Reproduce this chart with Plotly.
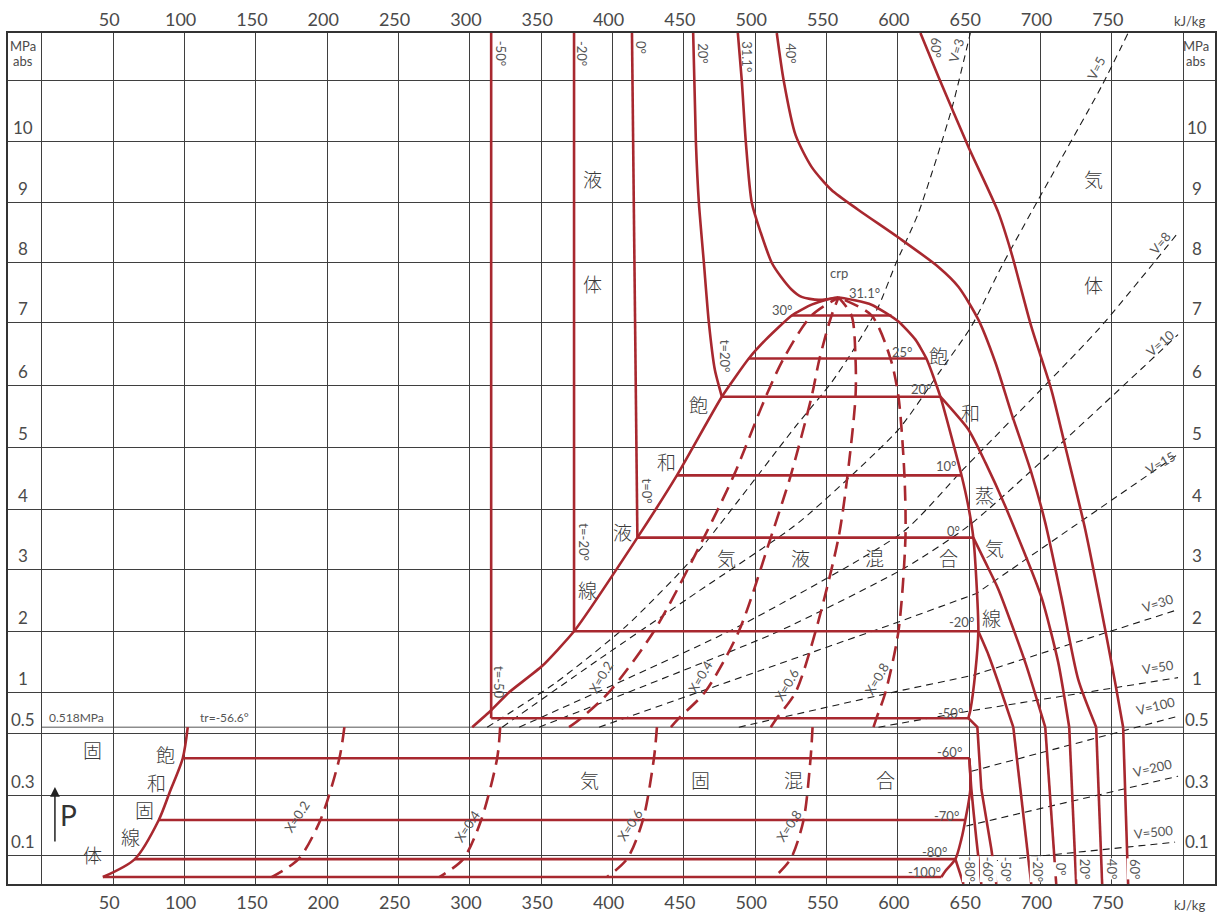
import numpy as np
import plotly.graph_objects as go

# ---------------- chart scales (read from the grid of the reference) ----------------
# pressure scale of the chart is non-linear: knots pressure -> display units
P_KNOTS = [0, 0.1, 0.3, 0.5, 0.518, 1, 2, 3, 4, 5, 6, 7, 8, 9, 10, 11, 11.79]
Y_KNOTS = [0, 29, 89, 151, 157, 192, 253, 315, 375, 437, 499, 562, 622, 682, 743, 804, 852]

H_GRID = list(range(0, 801, 50))
H_TICKTEXT = ["" if v in (0, 800) else str(v) for v in H_GRID]
P_GRID = [0.1, 0.3, 0.5, 1, 2, 3, 4, 5, 6, 7, 8, 9, 10, 11]
P_LABELED = [0.1, 0.3, 0.5, 1, 2, 3, 4, 5, 6, 7, 8, 9, 10]
P_LABEL_TEXT = ["0.1", "0.3", "0.5", "1", "2", "3", "4", "5", "6", "7", "8", "9", "10"]
P_TRIPLE = 0.518

# ---------------- saturation lines ----------------
SAT_LIQ_H = [301.6, 314.9, 327.5, 350.6, 373.0, 417.4, 445.1, 476.6, 495.5, 507.4, 525.6, 539.5, 549.3, 558.4]
SAT_LIQ_P = [0.518, 0.752, 1.0, 1.43, 2.0, 3.53, 4.55, 5.82, 6.43, 6.73, 7.12, 7.30, 7.38, 7.42]
SAT_VAP_H = [558.4, 581.5, 600.4, 612.3, 620.0, 629.8, 644.5, 649.4, 652.9, 655.0, 656.4, 654.3, 650.8, 649.4]
SAT_VAP_P = [7.42, 7.30, 7.02, 6.73, 6.43, 5.82, 4.56, 4.05, 3.53, 2.83, 2.0, 1.33, 0.752, 0.642]
SOLID_SAT_H = [102.2, 98.7, 89.6, 81.9, 65.1, 42.7]
SOLID_SAT_P = [0.518, 0.419, 0.31, 0.217, 0.086, 0.024]
SUBL_VAP_H = [650.1, 650.8, 647.3, 644.5, 640.3, 633.3, 630.5]
SUBL_VAP_P = [0.419, 0.319, 0.217, 0.153, 0.086, 0.045, 0.024]

# ---------------- isotherms ----------------
TWO_PHASE_T = ["30°", "25°", "20°", "10°", "0°", "-20°", "-50°"]
TWO_PHASE_HL = [525.6, 495.5, 476.6, 445.1, 417.4, 373.0, 314.9]
TWO_PHASE_HR = [595.5, 620.0, 629.8, 644.5, 652.9, 656.4, 649.4]
TWO_PHASE_P = [7.12, 6.43, 5.82, 4.55, 3.53, 2.0, 0.642]
SOLID_VAP_T = ["-60°", "-70°", "-80°", "-100°"]
SOLID_VAP_HL = [98.7, 81.9, 65.1, 42.7]
SOLID_VAP_HR = [650.1, 647.3, 640.3, 630.5]
SOLID_VAP_P = [0.419, 0.217, 0.086, 0.024]

LIQ_M50_H = [314.9, 314.9]
LIQ_M50_P = [11.79, 0.642]
LIQ_M20_H = [373.0, 373.0]
LIQ_M20_P = [11.79, 2.0]
LIQ_0_H = [413.6, 417.4]
LIQ_0_P = [11.79, 3.53]
LIQ_20_H = [456.5, 458.4, 460.5, 464.0, 467.5, 471.7, 476.6]
LIQ_20_P = [11.79, 10, 9, 8, 7, 6.25, 5.82]
CRIT_H = [487.8, 490.6, 493.4, 497.6, 503.9, 511.6, 517.9, 525.6, 532.5, 544.5, 558.4]
CRIT_P = [11.79, 11, 10, 9, 8.5, 8, 7.77, 7.55, 7.43, 7.38, 7.42]
ISO_40_H = [515.1, 520.0, 528.3, 539.5, 553.5, 572.4, 600.4, 628.4, 642.4, 656.4, 668.3, 679.5, 693.5, 703.3, 714.5, 726.4, 739.0]
ISO_40_P = [11.79, 11.0, 10.11, 9.59, 9.21, 8.88, 8.42, 7.93, 7.6, 7.05, 6.37, 5.56, 4.6, 3.78, 2.56, 1.21, 0.518]
ISO_40_LOW_H = [739.0, 743.2]
ISO_40_LOW_P = [0.518, 0]
ISO_60_H = [615.8, 628.4, 649.4, 670.4, 679.5, 693.5, 707.5, 717.3, 731.3, 745.3, 752.3, 757.9]
ISO_60_P = [11.79, 11.07, 9.92, 8.84, 8.17, 6.94, 5.94, 5.02, 3.67, 2.03, 1.16, 0.518]
ISO_60_LOW_H = [757.9, 761.4]
ISO_60_LOW_P = [0.518, 0]
SH_20_H = [629.8, 649.4, 661.3, 675.3, 700.5, 712.4, 720.1]
SH_20_P = [5.82, 5.29, 4.76, 4.05, 2.56, 1.49, 0.518]
SH_20_LOW_H = [720.1, 725.0]
SH_20_LOW_P = [0.518, 0]
SH_0_H = [652.9, 661.3, 670.4, 689.3, 703.3]
SH_0_P = [3.53, 3.12, 2.68, 1.49, 0.518]
SH_0_LOW_H = [703.3, 711.0]
SH_0_LOW_P = [0.518, 0]
SH_M20_H = [656.4, 663.4, 670.4, 680.9]
SH_M20_P = [2.0, 1.62, 1.16, 0.518]
SH_M20_LOW_H = [680.9, 693.5]
SH_M20_LOW_P = [0.518, 0]
SH_M50_H = [649.4, 655.7, 658.5, 665.5, 669.0]
SH_M50_P = [0.642, 0.518, 0.319, 0.12, 0]
SH_M60_H = [650.1, 651.5, 655.0, 658.5]
SH_M60_P = [0.419, 0.319, 0.153, 0]
SH_M80_H = [640.3, 646.0]
SH_M80_P = [0.086, 0]

# ---------------- quality lines ----------------
XQ_P = [0.518, 0.642, 1, 2, 3.53, 4.55, 5.82, 6.43, 7.12, 7.42]
XQ_LABELS = ["X=0.2", "X=0.4", "X=0.6", "X=0.8"]
XQ_H = [
    [369.5, 377.9, 397.5, 429.0, 464.0, 485.0, 507.4, 519.9, 539.5, 558.4],
    [440.9, 446.5, 464.7, 488.5, 510.9, 524.9, 539.5, 545.1, 553.5, 558.4],
    [510.9, 515.1, 528.3, 542.3, 558.4, 564.7, 570.3, 570.3, 567.5, 558.4],
    [582.9, 585.0, 591.3, 600.4, 605.3, 604.6, 600.4, 594.8, 581.5, 558.4],
]
XS_P = [0.518, 0.419, 0.217, 0.086, 0.024]
XS_H = [
    [212.0, 208.5, 195.2, 179.8, 161.0],
    [321.2, 319.1, 307.9, 295.3, 278.5],
    [431.1, 429.0, 421.3, 410.1, 396.1],
    [540.2, 538.8, 533.9, 524.8, 513.6],
]

# ---------------- specific volume lines (V, L/kg) ----------------
V_LABELS = ["V=3", "V=5", "V=8", "V=10", "V=15", "V=30", "V=50", "V=100", "V=200", "V=500"]
V_H = [
    [312.1, 360.4, 409.4, 455.6, 528.3, 553.5, 570.3, 586.4, 598.3, 614.4, 637.5, 650.8],
    [322.6, 390.5, 460.5, 530.4, 600.4, 628.4, 651.5, 672.5, 698.4, 742.5, 761.4],
    [334.5, 488.5, 603.9, 645.9, 740.4, 796.4],
    [348.5, 516.4, 605.3, 650.8, 796.4],
    [390.5, 600.4, 655.0, 796.4],
    [488.5, 600.4, 652.9, 796.4],
    [586.4, 649.4, 796.4],
    [651.5, 796.4],
    [648.0, 796.4],
    [651.5, 794.3],
]
V_P = [
    [0.518, 1.16, 2.08, 3.17, 5.34, 6.05, 6.62, 7.27, 7.97, 8.83, 10.52, 11.79],
    [0.518, 1.54, 2.65, 3.78, 5.29, 6.19, 6.94, 7.93, 9.05, 10.9, 11.79],
    [0.518, 2.08, 3.63, 4.65, 6.89, 8.5],
    [0.518, 2.0, 3.03, 3.75, 6.81],
    [0.518, 2.15, 2.61, 4.89],
    [0.518, 1.02, 1.28, 2.35],
    [0.518, 0.738, 1.24],
    [0.377, 0.669],
    [0.197, 0.361],
    [0.072, 0.143],
]

# ---------------- styling ----------------
RED = "#a8282f"
GRID = "#3f3f3f"
TXT = "#555555"
JPC = "#3a3a3a"
JP = "Noto Sans CJK JP"
NUM = "Lato"
W, H = 1222, 918
ML, MR, MT, MB = 8, 5, 33, 33
X_RANGE = [-23.8, 822.3]
Y_RANGE = [0, 852]


def pm(p):
    return np.interp(np.asarray(p, dtype=float), P_KNOTS, Y_KNOTS)


fig = go.Figure()


def curve(h, p, color=RED, width=2.6, dash=None, shape="linear", smoothing=1.0):
    fig.add_trace(go.Scatter(
        x=list(h), y=pm(p).tolist(), mode="lines",
        line=dict(color=color, width=width, dash=dash, shape=shape, smoothing=smoothing),
        hoverinfo="skip", showlegend=False))


# specific volume lines (drawn first, under the red lines)
for vh, vp in zip(V_H, V_P):
    curve(vh, vp, color="#1a1a1a", width=1.1, dash="7px,5px",
          shape="spline" if len(vh) > 4 else "linear", smoothing=0.6)

# quality lines
for xh in XQ_H:
    curve(xh, XQ_P, width=2.6, dash="15px,8px", shape="spline", smoothing=0.8)
for xh in XS_H:
    curve(xh, XS_P, width=2.6, dash="15px,8px", shape="spline", smoothing=0.8)

# saturation dome and solid lines
curve(SAT_LIQ_H + SAT_VAP_H[1:], SAT_LIQ_P + SAT_VAP_P[1:], shape="spline", smoothing=0.5)
curve(SOLID_SAT_H, SOLID_SAT_P, shape="spline", smoothing=0.8)
curve(SUBL_VAP_H, SUBL_VAP_P, shape="spline", smoothing=0.8)

# horizontal isotherms
for hl, hr, p in zip(TWO_PHASE_HL, TWO_PHASE_HR, TWO_PHASE_P):
    curve([hl, hr], [p, p])
for hl, hr, p in zip(SOLID_VAP_HL, SOLID_VAP_HR, SOLID_VAP_P):
    curve([hl, hr], [p, p])

# liquid and supercritical isotherms
curve(LIQ_M50_H, LIQ_M50_P)
curve(LIQ_M20_H, LIQ_M20_P)
curve(LIQ_0_H, LIQ_0_P)
curve(LIQ_20_H, LIQ_20_P, shape="spline", smoothing=0.6)
curve(CRIT_H, CRIT_P, shape="spline", smoothing=0.7)
curve(ISO_40_H, ISO_40_P, shape="spline", smoothing=0.7)
curve(ISO_40_LOW_H, ISO_40_LOW_P)
curve(ISO_60_H, ISO_60_P, shape="spline", smoothing=0.7)
curve(ISO_60_LOW_H, ISO_60_LOW_P)
curve(SH_20_H, SH_20_P, shape="spline", smoothing=0.6)
curve(SH_20_LOW_H, SH_20_LOW_P)
curve(SH_0_H, SH_0_P, shape="spline", smoothing=0.6)
curve(SH_0_LOW_H, SH_0_LOW_P)
curve(SH_M20_H, SH_M20_P, shape="spline", smoothing=0.5)
curve(SH_M20_LOW_H, SH_M20_LOW_P)
curve(SH_M50_H, SH_M50_P)
curve(SH_M60_H, SH_M60_P, shape="spline", smoothing=0.5)
curve(SH_M80_H, SH_M80_P)

# invisible trace for the top axis
fig.add_trace(go.Scatter(x=[X_RANGE[0]], y=[0], xaxis="x2", mode="markers",
                         marker=dict(opacity=0), hoverinfo="skip", showlegend=False))

# triple-point pressure line
fig.add_shape(type="line", xref="x", yref="y", x0=0, x1=800,
              y0=float(pm(P_TRIPLE)), y1=float(pm(P_TRIPLE)),
              line=dict(color="#555555", width=1), layer="below")

tickfont = dict(family=NUM, size=18, color="#4a4a4a")
fig.update_layout(
    width=W, height=H, margin=dict(l=ML, r=MR, t=MT, b=MB),
    paper_bgcolor="white", plot_bgcolor="white",
    showlegend=False,
    xaxis=dict(range=X_RANGE, tickvals=H_GRID, ticktext=H_TICKTEXT, showgrid=True,
               gridcolor=GRID, gridwidth=1, zeroline=False, showline=True, mirror=True,
               linecolor="#333333", linewidth=1.5, ticks="", tickfont=tickfont,
               ticklabelshift=-4, ticklabelstandoff=2),
    xaxis2=dict(range=X_RANGE, matches="x", overlaying="x", side="top", tickvals=H_GRID,
                ticktext=H_TICKTEXT, showgrid=False, zeroline=False, showline=False,
                ticks="", tickfont=tickfont, ticklabelshift=-4, ticklabelstandoff=2),
    yaxis=dict(range=Y_RANGE, tickvals=pm(P_GRID).tolist(), showticklabels=False,
               showgrid=True, gridcolor=GRID, gridwidth=1, zeroline=False, showline=True,
               mirror=True, linecolor="#333333", linewidth=1.5, ticks=""),
)


def ann(text, px, py, size=13, angle=0, color=TXT, family=NUM, bg=None):
    fig.add_annotation(x=(px - ML) / (W - ML - MR), y=(H - MB - py) / (H - MT - MB),
                       xref="paper", yref="paper", text=text, showarrow=False,
                       textangle=angle, font=dict(size=size, color=color, family=family),
                       xanchor="center", yanchor="middle",
                       bgcolor=bg, borderpad=0)


# pressure axis labels (left and right)
for p, t in zip(P_LABELED, P_LABEL_TEXT):
    for xpx in (23, 1199):
        fig.add_annotation(x=(xpx - ML) / (W - ML - MR), y=float(pm(p)), xref="paper", yref="y",
                           text=t, showarrow=False, yshift=14,
                           font=dict(size=17, color="#4a4a4a", family=NUM),
                           xanchor="center", yanchor="middle")
for xpx in (23, 1198):
    ann("MPa", xpx, 46, size=13, color="#4a4a4a")
    ann("abs", xpx, 61, size=13, color="#4a4a4a")
ann("kJ/kg", 1191, 21, size=13, color="#4a4a4a")
ann("kJ/kg", 1191, 906, size=13, color="#4a4a4a")

# rotated isotherm labels at the top
for t, x, y in [("-50°", 502, 53), ("-20°", 583, 53), ("0°", 642, 48), ("20°", 704, 53),
                ("31.1°", 748, 57), ("40°", 792, 53), ("60°", 938, 48)]:
    ann(t, x, y, size=13, angle=90)
for t, x, y in [("t=-50", 500, 683), ("t=-20°", 585, 543), ("t=0°", 648, 492), ("t=20°", 727, 357)]:
    ann(t, x, y, size=13, angle=90)

# bottom rotated labels
for t, x in [("-80°", 972), ("-60°", 990), ("-50°", 1008), ("-20°", 1040),
             ("0°", 1063), ("20°", 1087), ("40°", 1114), ("60°", 1137)]:
    ann(t, x, 870, size=13, angle=90, bg="white")

# dome / solid region temperature labels
for t, x, y in [("30°", 783, 310), ("31.1°", 866, 293), ("crp", 840, 273), ("25°", 903, 352),
                ("20°", 923, 389), ("10°", 948, 467), ("0°", 955, 532), ("-20°", 963, 623),
                ("-50°", 952, 714), ("-60°", 951, 753), ("-70°", 948, 817), ("-80°", 936, 853),
                ("-100°", 926, 873)]:
    ann(t, x, y, size=13)
ann("0.518MPa", 77, 718, size=12)
ann("tr=-56.6°", 225, 718, size=12)

# quality labels
for t, x, y in zip(XQ_LABELS, [602, 702, 788, 878], [678, 677, 686, 680]):
    ann(t, x, y, size=13, angle=-60)
for t, x, y in zip(XQ_LABELS, [297, 468, 631, 790], [818, 827, 826, 827]):
    ann(t, x, y, size=13, angle=-57)

# specific volume labels
for t, x, y, a in zip(V_LABELS,
                      [958, 1098, 1162, 1162, 1162, 1160, 1160, 1157, 1154, 1155],
                      [50, 68, 243, 343, 464, 604, 668, 707, 769, 833],
                      [-74, -63, -50, -41, -30, -18, -9, -14, -13, -6]):
    ann(t, x, y, size=13, angle=a)

# Japanese region labels
for t, x, y in [("液", 593, 179), ("体", 593, 284), ("気", 1095, 179), ("体", 1095, 285),
                ("飽", 700, 405), ("和", 668, 462), ("液", 624, 532), ("線", 588, 590),
                ("飽", 940, 356), ("和", 972, 413), ("蒸", 986, 495), ("気", 996, 548), ("線", 993, 618),
                ("気", 728, 558), ("液", 802, 558), ("混", 876, 558), ("合", 950, 558),
                ("気", 590, 780), ("固", 702, 780), ("混", 795, 780), ("合", 887, 780),
                ("固", 93, 750), ("体", 93, 855),
                ("飽", 166, 755), ("和", 157, 783), ("固", 145, 810), ("線", 131, 837)]:
    fig.add_annotation(x=(x - ML) / (W - ML - MR), y=(H - MB - y) / (H - MT - MB),
                       xref="paper", yref="paper", text=t, showarrow=False,
                       font=dict(size=19, color=JPC, family=JP, weight=300),
                       xanchor="center", yanchor="middle")

# P arrow
fig.add_annotation(x=(55 - ML) / (W - ML - MR), y=(H - MB - 788) / (H - MT - MB), xref="paper", yref="paper",
                   text="", showarrow=True, ax=0, ay=56, arrowhead=2, arrowsize=1.3,
                   arrowwidth=1.5, arrowcolor="#222222", standoff=0)
ann("P", 69, 816, size=28, color="#333333")

fig.write_html("out.html", config={"displayModeBar": False},
               post_script="document.body.style.margin='0';document.body.style.padding='0';"
                           "document.body.style.overflow='hidden';")
